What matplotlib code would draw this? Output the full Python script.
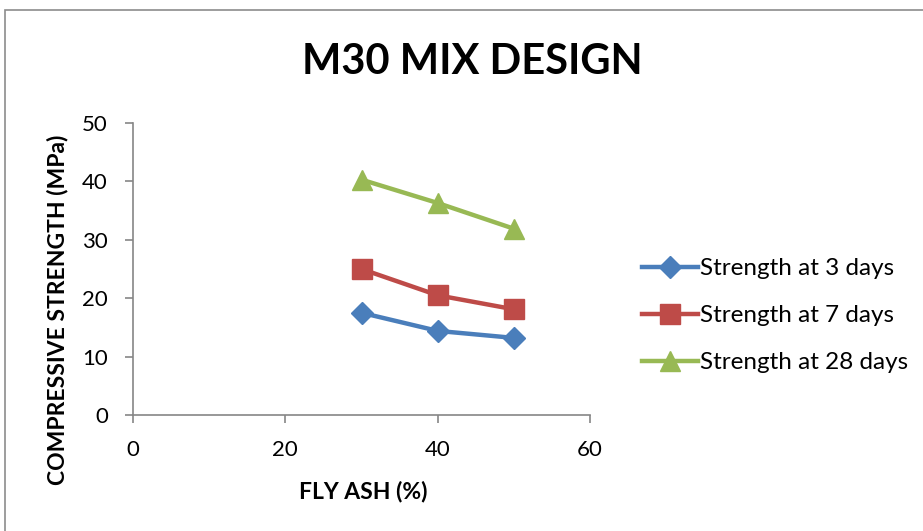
import matplotlib
matplotlib.use("Agg")
import matplotlib.pyplot as plt
from matplotlib.patches import Rectangle

fly_ash = [30, 40, 50]
strength_3 = [17.5, 14.4, 13.2]
strength_7 = [25.0, 20.5, 18.1]
strength_28 = [40.3, 36.3, 31.9]
series_labels = ["Strength at 3 days", "Strength at 7 days", "Strength at 28 days"]
x_ticks = [0, 20, 40, 60]
y_ticks = [0, 10, 20, 30, 40, 50]

plt.rcParams['font.family'] = ['Lato', 'DejaVu Sans']

W, H = 923, 531
fig = plt.figure(figsize=(W / 100, H / 100), dpi=100)

# chart-area frame
fig.patches.append(Rectangle((5 / W, -0.05), 1.2, (H - 10) / H + 0.05,
                             transform=fig.transFigure, fill=False,
                             edgecolor="#8c8c8c", linewidth=1.2))

ax = fig.add_axes([133 / W, (H - 415) / H, (590 - 133) / W, (415 - 123) / H])

colors = ["#4a7ebb", "#be4b48", "#98b954"]
markers = ["D", "s", "^"]
msizes = [11, 14, 15]
for vals, lab, c, m, ms in zip([strength_3, strength_7, strength_28],
                               series_labels, colors, markers, msizes):
    ax.plot(fly_ash, vals, color=c, marker=m, markersize=ms, linewidth=3.2,
            label=lab, markeredgecolor=c)

ax.set_xlim(0, 60)
ax.set_ylim(0, 50)
ax.set_xticks(x_ticks)
ax.set_yticks(y_ticks)
for s in ["top", "right"]:
    ax.spines[s].set_visible(False)
for s in ["left", "bottom"]:
    ax.spines[s].set_color("#868686")
    ax.spines[s].set_linewidth(1.2)
ax.tick_params(axis="both", colors="#868686", length=6, width=1.2,
               labelsize=16, labelcolor="#000000")
ax.tick_params(axis="y", pad=12)
ax.tick_params(axis="x", pad=12)

fig.text(472 / W, 1 - 62 / H, "M30 MIX DESIGN", ha="center", va="center",
         fontsize=30, fontweight="bold")
fig.text(363 / W, 1 - 492 / H, "FLY ASH (%)", ha="center", va="center",
         fontsize=16.5, fontweight="bold")
fig.text(58 / W, 1 - 310 / H, "COMPRESSIVE STRENGTH (MPa)", ha="center",
         va="center", rotation=90, fontsize=16.5, fontweight="bold")

leg = fig.legend(loc="upper left", bbox_to_anchor=(642 / W, 1 - 258 / H),
                 frameon=False, fontsize=17.5, handlelength=2.3,
                 handletextpad=0.1, labelspacing=1.07, borderaxespad=0,
                 borderpad=0)

fig.savefig("out.png", dpi=100)
